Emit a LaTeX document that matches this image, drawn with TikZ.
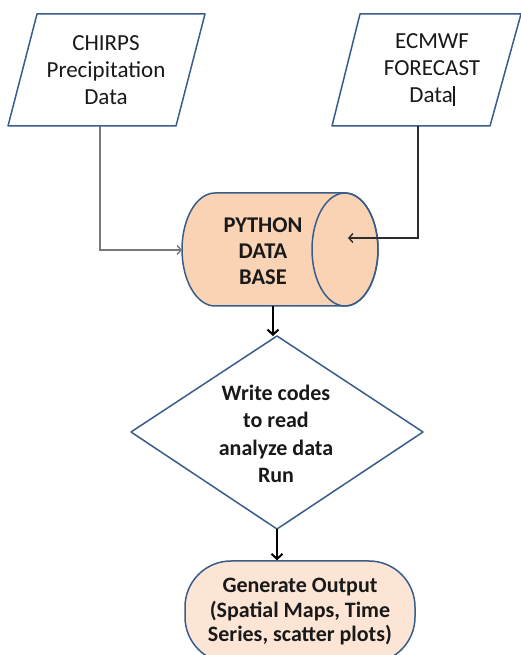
\documentclass[tikz,border=0pt]{standalone}
\usepackage{fontspec}
\setmainfont{Carlito}
\usetikzlibrary{arrows.meta}
\definecolor{bordc}{RGB}{56,93,138}
\definecolor{peach}{RGB}{250,211,180}
\definecolor{lpeach}{RGB}{252,229,213}
\definecolor{txtc}{RGB}{25,25,25}
\definecolor{lgrayc}{RGB}{120,120,120}
\definecolor{dgrayc}{RGB}{45,45,45}
\tikzset{
  border/.style={draw=bordc, line width=1.5pt, line join=round},
  txt/.style={font=\fontsize{23}{27}\selectfont, align=center, text=txtc, inner sep=0pt},
  btxt/.style={font=\bfseries\fontsize{22}{27.5}\selectfont, align=center, text=txtc, inner sep=0pt},
  conn/.style={line width=1.4pt, -{Straight Barb[length=4pt,width=9pt,line width=1.4pt]}},
  mainarrow/.style={line width=2pt, draw=black, -{Straight Barb[length=5pt,width=11pt,line width=2pt]}}
}
\begin{document}
\begin{tikzpicture}[x=1pt,y=1pt]
\useasboundingbox (0,0) rectangle (521,655);
\clip (0,0) rectangle (521,655);
% input parallelograms
\draw[border, fill=white] (37,641) -- (205,641) -- (176,529) -- (8,529) -- cycle;
\node[txt, minimum height=112pt] (chirps) at (106,585) {CHIRPS\\Precipitation\\Data};
\draw[border, fill=white] (360,641) -- (521,641) -- (490,529) -- (332,529) -- cycle;
\node[txt, minimum height=112pt] (ecmwf) at (432,585) {ECMWF\\FORECAST\\Data\kern0.5pt\rule[-4pt]{1.2pt}{20pt}};
% database cylinder
\draw[border, fill=peach] (215,462) -- (345,462)
  arc[start angle=90, end angle=-90, x radius=33, y radius=56.5]
  -- (215,349)
  arc[start angle=270, end angle=90, x radius=33, y radius=56.5] -- cycle;
\draw[border] (345,405.5) ellipse [x radius=33, y radius=56.5];
\node[btxt, font=\bfseries\fontsize{22.5}{26}\selectfont] (db) at (263,404) {PYTHON\\DATA\\BASE};
\coordinate (dbL) at (182,405);
\coordinate (dbR) at (348,417);
\coordinate (dbS) at (273,349);
% diamond
\draw[border, fill=white] (277,319) -- (423,223) -- (277,126) -- (131,223) -- cycle;
\coordinate (diaT) at (273,319);
\coordinate (diaB) at (277,126);
\node[btxt] (dia) at (276,221) {Write codes\\to read\\analyze data\\Run};
% terminal
\node[border, fill=lpeach, rounded corners=46pt, minimum width=230pt, minimum height=102pt,
      btxt, font=\bfseries\fontsize{22}{24.5}\selectfont] (term) at (300,43)
      {Generate Output\\(Spatial Maps, Time\\Series, scatter plots)};
% connectors
\draw[conn, draw=lgrayc] ([xshift=-6pt]chirps.south) |- (dbL);
\draw[conn, draw=dgrayc] ([xshift=-14pt]ecmwf.south) |- (dbR);
\draw[mainarrow] (dbS) -- (diaT);
\draw[mainarrow] (diaB) -- (diaB |- term.north);
\end{tikzpicture}
\end{document}
